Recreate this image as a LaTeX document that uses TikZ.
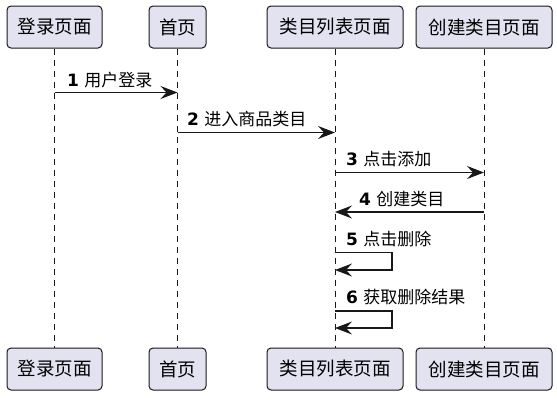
\documentclass[tikz,border=0pt]{standalone}
\usepackage{fontspec}
\setmainfont{DejaVu Sans}
\newfontfamily\cjk{Noto Sans CJK SC}
\usetikzlibrary{arrows.meta}
\definecolor{pfill}{HTML}{E2E2F0}
\definecolor{pline}{HTML}{181818}
\begin{document}
\begin{tikzpicture}[x=1pt,y=-1pt,
 pbox/.style={draw=pline, fill=pfill, rounded corners=4pt, line width=1pt, minimum height=42pt, inner sep=0pt, font=\cjk\fontsize{18.5}{20}\selectfont},
 life/.style={draw=pline, line width=0.8pt, dash pattern=on 6pt off 5pt},
 msg/.style={draw=pline, line width=1.2pt, -{Stealth[length=17pt,width=13pt,inset=6pt]}},
 lbl/.style={anchor=west, inner sep=0pt, font=\fontsize{17}{18}\selectfont}]
\useasboundingbox (0,0) rectangle (557,400);
% top participants
\node[pbox, minimum width=95pt] (a1) at (54.5,27) {登录页面};
\node[pbox, minimum width=57pt] (a2) at (177.5,27) {首页};
\node[pbox, minimum width=136pt] (a3) at (335,27) {类目列表页面};
\node[pbox, minimum width=136pt] (a4) at (484,27) {创建类目页面};
% bottom participants
\node[pbox, minimum width=95pt] (b1) at (54.5,369) {登录页面};
\node[pbox, minimum width=57pt] (b2) at (177.5,369) {首页};
\node[pbox, minimum width=136pt] (b3) at (335,369) {类目列表页面};
\node[pbox, minimum width=136pt] (b4) at (484,369) {创建类目页面};
% lifelines
\draw[life] (a1.south) -- (b1.north);
\draw[life] (a2.south) -- (b2.north);
\draw[life] (a3.south) -- (b3.north);
\draw[life] (a4.south) -- (b4.north);
% messages
\draw[msg] (a1 |- 0,92.5) -- (a2 |- 0,92.5);
\node[lbl] (t1) at (67,80) {\textbf{1} {\cjk 用户登录}};
\draw[msg] (a2 |- 0,132.5) -- (a3 |- 0,132.5);
\node[lbl] (t2) at (187,119.5) {\textbf{2} {\cjk 进入商品类目}};
\draw[msg] (a3 |- 0,172.5) -- (a4 |- 0,172.5);
\node[lbl] (t3) at (346,159) {\textbf{3} {\cjk 点击添加}};
\draw[msg] (a4 |- 0,212) -- (a3 |- 0,212);
\node[lbl] (t4) at (359,199) {\textbf{4} {\cjk 创建类目}};
\draw[msg] (a3 |- 0,252.5) -- (392,252.5) -- (392,270) -- (a3 |- 0,270);
\node[lbl] (t5) at (346,239) {\textbf{5} {\cjk 点击删除}};
\draw[msg] (a3 |- 0,311) -- (392,311) -- (392,328) -- (a3 |- 0,328);
\node[lbl] (t6) at (346,297) {\textbf{6} {\cjk 获取删除结果}};
\end{tikzpicture}
\end{document}
